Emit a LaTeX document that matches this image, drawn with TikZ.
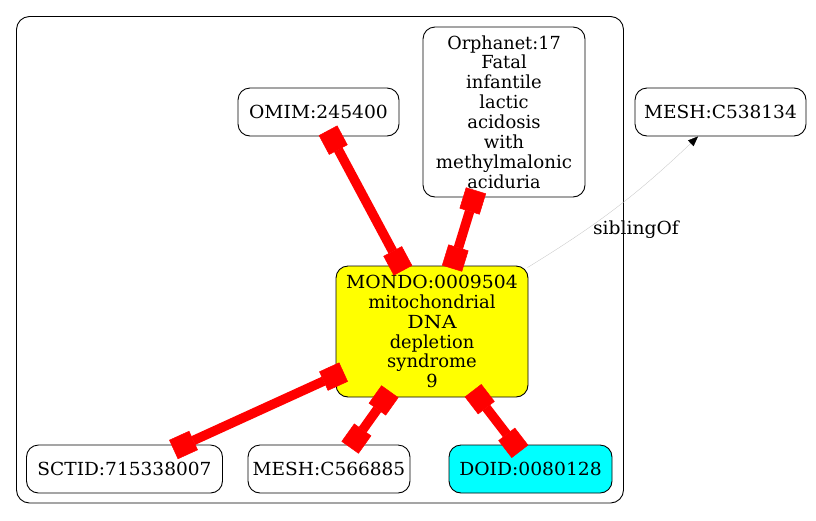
\documentclass[tikz,border=0pt]{standalone}
\usepackage{fontspec}
\usepackage{graphicx}
\setmainfont{DejaVu Serif}
\newfontfamily\refmetric{Liberation Serif}
\newfontfamily\glyphf{DejaVu Serif}
\newlength\gvwid
\newcommand\gl[1]{\settowidth\gvwid{\refmetric\fontsize{22.7}{20}\selectfont #1}%
  \resizebox{\gvwid}{\height}{\glyphf\fontsize{18}{20}\selectfont #1}}
\usetikzlibrary{arrows.meta,calc}
\definecolor{gvyellow}{RGB}{255,255,0}
\definecolor{gvcyan}{RGB}{0,255,255}
\definecolor{gvred}{RGB}{255,0,0}
\begin{document}
\begin{tikzpicture}[x=1pt,y=-1pt,
  nd/.style={draw=black, line width=0.9pt, rounded corners=12pt, align=center,
    inner sep=0pt, font=\glyphf\fontsize{18}{19.9}\selectfont},
  box1/.style={nd, minimum width=161pt, minimum height=48pt},
  rel/.style={draw=gvred, line width=9.5pt,
    {Square[length=22pt,width=21pt,line width=0.5pt]}-{Square[length=22pt,width=21pt,line width=0.5pt]}},
  sib/.style={draw=black!22, line width=0.35pt, -{Triangle[length=10pt,width=8pt,color=black]}},
  lbl/.style={font=\glyphf\fontsize{18}{19.9}\selectfont, inner sep=0pt},
  ]
\useasboundingbox (0,0) rectangle (816,520);
\draw[line width=0.9pt, rounded corners=13pt] (16.5,16.5) rectangle (623.5,503);
\node[box1] (omim) at (318.5,112) {\gl{OMIM:245400}};
\node[nd, minimum width=162pt, minimum height=170pt] (orph) at (504,112)
  {\gl{Orphanet:17}\\\gl{Fatal}\\\gl{infantile}\\\gl{lactic}\\\gl{acidosis}\\\gl{with}\\\gl{methylmalonic}\\\gl{aciduria}};
\node[nd, minimum width=171pt, minimum height=48pt] (mesha) at (720.5,112) {\gl{MESH:C538134}};
\node[nd, fill=gvyellow, minimum width=192pt, minimum height=131pt] (mondo) at (432,331.5)
  {\gl{MONDO:0009504}\\\gl{mitochondrial}\\\gl{DNA}\\\gl{depletion}\\\gl{syndrome}\\\gl{9}};
\node[nd, minimum width=196pt, minimum height=48pt] (sctid) at (124.5,469) {\gl{SCTID:715338007}};
\node[nd, minimum width=162pt, minimum height=48pt] (meshb) at (329,469) {\gl{MESH:C566885}};
\node[nd, fill=gvcyan, minimum width=163pt, minimum height=48pt] (doid) at (530.5,469) {\gl{DOID:0080128}};
\draw[rel] ($(omim.south)+(9.5,-6)$) -- ($(mondo.north)+(-29,5)$);
\draw[rel] ($(orph.south)+(-28,-7)$) -- ($(mondo.north)+(20,3)$);
\draw[rel] ($(mondo.west)+(8,40.5)$) -- ($(sctid.north)+(49,5)$);
\draw[rel] ($(mondo.south)+(-42,-6)$) -- ($(meshb.north)+(21,3)$);
\draw[rel] ($(mondo.south)+(41,-7)$) -- ($(doid.north)+(-10.5,7)$);
\draw[sib] ($(mondo.north east)+(-1,2)$) to[bend right=6] ($(mesha.south)+(-22.5,0)$);
\node[lbl] (siblbl) at (636,230) {\gl{siblingOf}};
\end{tikzpicture}
\end{document}
